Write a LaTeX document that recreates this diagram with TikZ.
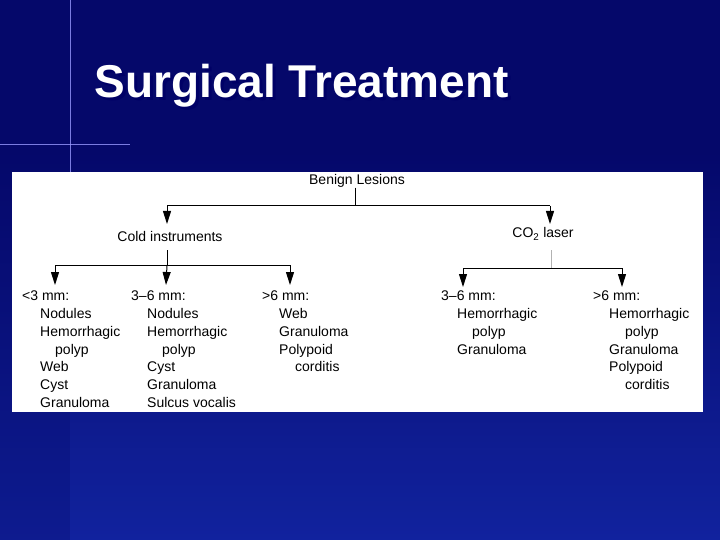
\documentclass[tikz,border=0pt]{standalone}
\usepackage{fontspec}
\setmainfont{Liberation Sans}
\usetikzlibrary{arrows.meta}
\definecolor{bgA}{HTML}{05086A}
\definecolor{bgB}{HTML}{1428A8}
\begin{document}
\begin{tikzpicture}[x=1pt,y=-1pt,
  lbl/.style={font=\fontsize{14}{17.7}\selectfont,inner sep=0pt,text=black},
  col/.style={lbl,align=left,anchor=north west},
  arr/.style={-{Triangle[length=13pt,width=8pt]},line width=1pt},
  ln/.style={line width=1pt}]
\useasboundingbox (0,0) rectangle (720,540);
\fill[bgA] (0,0) rectangle (720,540);
\shade[top color=bgA,bottom color=bgB,opacity=0.6] (0,145) rectangle (720,540);
\shade[top color=bgA,bottom color=bgB,opacity=0.6] (70,145) rectangle (720,540);
\draw[white!60!blue,line width=1pt,opacity=0.8] (70,0) -- (70,175);
\draw[white!60!blue,line width=1pt,opacity=0.8] (0,145) -- (130,145);
\node[font=\bfseries\fontsize{46}{48}\selectfont,text=black!60!blue,anchor=base west] at (94,101) {Surgical Treatment};
\node[font=\bfseries\fontsize{46}{48}\selectfont,text=white,anchor=base west] (title) at (91,98) {Surgical Treatment};
\fill[white] (12,172) rectangle (703,412);
\node[lbl] (benign) at (357,181) {Benign Lesions};
\node[lbl] (cold) at (170,236) {Cold instruments};
\node[lbl] (co2) at (543,234) {CO\textsubscript{2} laser};
\coordinate (bj) at (355,206);
\coordinate (bl) at (167,206);
\coordinate (br) at (550,206);
\draw[ln] (benign.south -| bj) -- (bj);
\draw[ln] (bl) -- (br);
\draw[arr] (bl) -- (167,224);
\draw[arr] (br) -- (550,224);
\coordinate (cj) at (167,265);
\draw[ln] (167,250) -- (cj);
\coordinate (c1) at (55,265);
\coordinate (c3) at (290,265);
\draw[ln] (c1) -- (c3);
\node[col] (g1) at (22,291) {<3 mm:\\\hspace*{18pt}Nodules\\\hspace*{18pt}Hemorrhagic\\\hspace*{33pt}polyp\\\hspace*{18pt}Web\\\hspace*{18pt}Cyst\\\hspace*{18pt}Granuloma};
\node[col] (g2) at (131,291) {3--6 mm:\\\hspace*{16pt}Nodules\\\hspace*{16pt}Hemorrhagic\\\hspace*{31pt}polyp\\\hspace*{16pt}Cyst\\\hspace*{16pt}Granuloma\\\hspace*{16pt}Sulcus vocalis};
\node[col] (g3) at (262,291) {>6 mm:\\\hspace*{17pt}Web\\\hspace*{17pt}Granuloma\\\hspace*{17pt}Polypoid\\\hspace*{33pt}corditis};
\draw[arr] (c1) -- (55,285);
\draw[arr] (cj) -- (166,285);
\draw[arr] (c3) -- (290,285);
\coordinate (dj) at (551,268);
\draw[ln,gray!60] (551,250) -- (dj);
\coordinate (d1) at (463,268);
\coordinate (d2) at (622,268);
\draw[ln] (d1) -- (d2);
\draw[arr] (d1) -- (463,287);
\draw[arr] (d2) -- (622,287);
\node[col] (g4) at (441,291) {3--6 mm:\\\hspace*{16pt}Hemorrhagic\\\hspace*{31pt}polyp\\\hspace*{16pt}Granuloma};
\node[col] (g5) at (593,291) {>6 mm:\\\hspace*{16pt}Hemorrhagic\\\hspace*{32pt}polyp\\\hspace*{16pt}Granuloma\\\hspace*{16pt}Polypoid\\\hspace*{32pt}corditis};
\end{tikzpicture}
\end{document}
